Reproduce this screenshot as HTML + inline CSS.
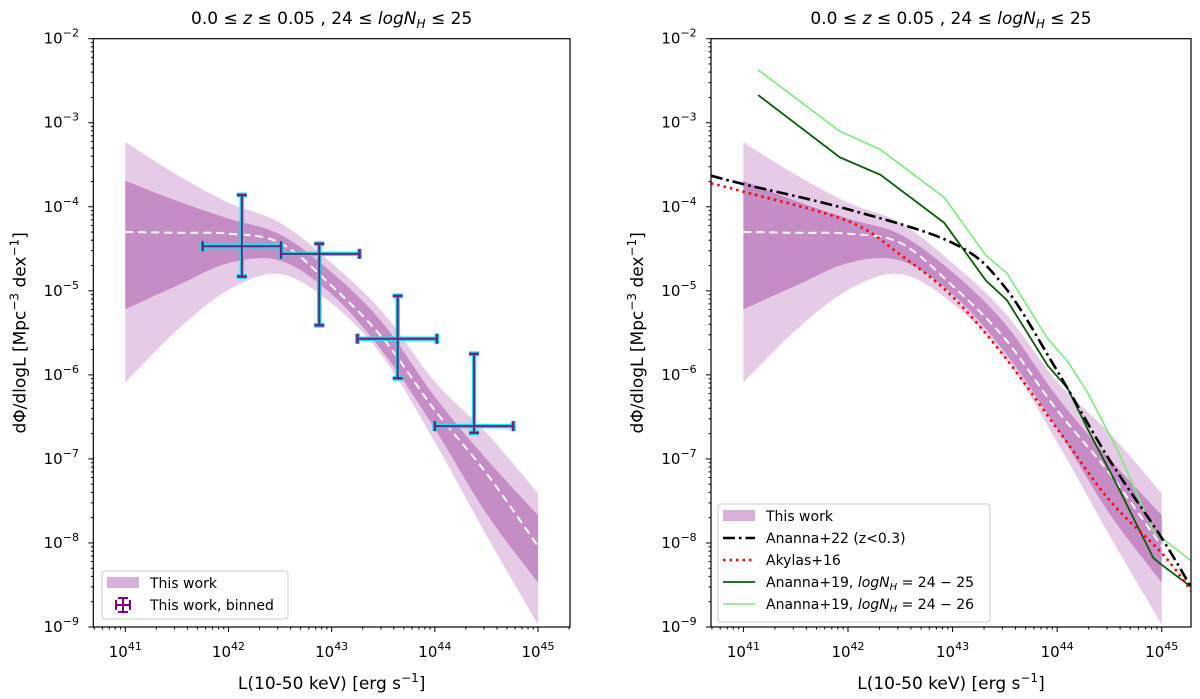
<!DOCTYPE html>
<html><head><meta charset="utf-8">
<style>
html,body{margin:0;padding:0;background:#fff;}
svg{display:block;font-family:"DejaVu Sans","Liberation Sans",sans-serif;}
</style></head>
<body>
<svg id="fig" width="1200" height="699" viewBox="0 0 1200 699" xmlns="http://www.w3.org/2000/svg"></svg>
<script>
// ---- data (log10 values) ----
const bandX = [41, 41.5, 42, 42.5, 43, 43.5, 44, 44.5, 45];
const lightUpper = [-3.23, -3.62, -3.95, -4.19, -4.67, -5.26, -6.08, -6.69, -7.41];
const darkUpper  = [-3.69, -3.93, -4.14, -4.33, -4.78, -5.39, -6.26, -7.0, -7.67];
const median     = [-4.30, -4.31, -4.32, -4.43, -4.94, -5.57, -6.42, -7.17, -8.04];
const darkLower  = [-5.22, -4.94, -4.67, -4.64, -5.04, -5.73, -6.64, -7.65, -8.47];
const lightLower = [-6.09, -5.47, -4.99, -4.80, -5.15, -5.79, -6.80, -7.91, -8.97];

const binX   = [42.13, 42.88, 43.64, 44.38];
const binXlo = [41.75, 42.51, 43.25, 44.00];
const binXhi = [42.51, 43.27, 44.02, 44.76];
const binY   = [-4.47, -4.56, -5.57, -6.61];
const binYhi = [-3.86, -4.44, -5.06, -5.75];
const binYlo = [-4.83, -5.41, -6.04, -6.69];

const a22X = [40.69, 41, 42, 43, 43.49, 44, 44.5, 45, 45.3];
const a22Y = [-3.63, -3.73, -4.03, -4.43, -4.94, -5.95, -7.01, -7.94, -8.57];
const akX  = [40.69, 41, 42, 42.5, 43, 43.5, 44, 44.5, 45, 45.3];
const akY  = [-3.72, -3.82, -4.17, -4.57, -5.07, -5.79, -6.64, -7.49, -8.12, -8.60];
const a19X = [41.14, 41.92, 42.31, 42.92, 43.32, 43.52, 43.91, 44.10, 44.29, 44.58, 44.92, 45.0, 45.3];
const a19aY = [-2.67, -3.41, -3.62, -4.19, -4.88, -5.11, -5.89, -6.16, -6.64, -7.33, -8.18, -8.26, -8.54];
const a19bY = [-2.37, -3.10, -3.32, -3.89, -4.58, -4.79, -5.57, -5.84, -6.21, -6.90, -7.86, -7.94, -8.23];

const xTicks = [41, 42, 43, 44, 45];
const yTicks = [-2, -3, -4, -5, -6, -7, -8, -9];

const NS = "http://www.w3.org/2000/svg";
const fig = document.getElementById('fig');
function el(tag, attrs, parent) {
  const e = document.createElementNS(NS, tag);
  for (const k in attrs) e.setAttribute(k, attrs[k]);
  (parent || fig).appendChild(e);
  return e;
}
// Catmull-Rom smooth path through points (no initial M)
function smooth(pts, start) {
  let d = (start ? 'M' : 'L') + pts[0][0].toFixed(1) + ',' + pts[0][1].toFixed(1);
  for (let i = 0; i < pts.length - 1; i++) {
    const p0 = pts[i - 1] || pts[i], p1 = pts[i], p2 = pts[i + 1], p3 = pts[i + 2] || pts[i + 1];
    const c1 = [p1[0] + (p2[0] - p0[0]) / 6, p1[1] + (p2[1] - p0[1]) / 6];
    const c2 = [p2[0] - (p3[0] - p1[0]) / 6, p2[1] - (p3[1] - p1[1]) / 6];
    d += 'C' + c1[0].toFixed(1) + ',' + c1[1].toFixed(1) + ' ' + c2[0].toFixed(1) + ',' + c2[1].toFixed(1) + ' ' + p2[0].toFixed(1) + ',' + p2[1].toFixed(1);
  }
  return d;
}

function panel(px0, px1, lx0, lx1, right) {
  const py0 = 38.7, py1 = 627, ly0 = -2, ly1 = -9;
  const X = v => px0 + (v - lx0) / (lx1 - lx0) * (px1 - px0);
  const Y = v => py0 + (v - ly0) / (ly1 - ly0) * (py1 - py0);
  const g = el('g', {});
  
  
  const clipId = right ? 'clipR' : 'clipL';
  const cp = el('clipPath', {id: clipId}, g);
  el('rect', {x: px0, y: py0, width: px1 - px0, height: py1 - py0}, cp);
  const pg = el('g', {'clip-path': 'url(#' + clipId + ')'}, g);

  function band(up, lo, fill, name) {
    const top = bandX.map((x, i) => [X(x), Y(up[i])]);
    const bot = bandX.map((x, i) => [X(x), Y(lo[i])]).reverse();
    const d = smooth(top, true) + smooth(bot, false) + 'Z';
    const p = el('path', {d: d, fill: fill, stroke: 'none'}, pg);
    
    
  }
  band(lightUpper, lightLower, '#e6cbe6', 'band-light');
  band(darkUpper, darkLower, '#c68cc6', 'band-dark');

  function line(xs, ys, attrs, name, sm) {
    const pts = xs.map((x, i) => [X(x), Y(ys[i])]);
    const d = sm ? smooth(pts, true) : 'M' + pts.map(p => p[0].toFixed(1) + ',' + p[1].toFixed(1)).join('L');
    const p = el('path', Object.assign({d: d, fill: 'none'}, attrs), pg);
    
    
  }
  line(bandX, median, {stroke: '#fff', 'stroke-width': 2, 'stroke-dasharray': '8,5'}, 'median-line', true);

  if (!right) {
    binX.forEach((bx, i) => {
      const eg = el('g', {}, pg);
      
      
      const cx = X(bx), cy = Y(binY[i]);
      const x0 = X(binXlo[i]), x1 = X(binXhi[i]), y0 = Y(binYhi[i]), y1 = Y(binYlo[i]);
      for (const [c, w, cw] of [['#00eeee', 4.5, 5], ['#7a1a7a', 2, 2.4]]) {
        el('line', {x1: x0, y1: cy, x2: x1, y2: cy, stroke: c, 'stroke-width': w}, eg);
        el('line', {x1: cx, y1: y0, x2: cx, y2: y1, stroke: c, 'stroke-width': w}, eg);
        el('line', {x1: x0, y1: cy - 5, x2: x0, y2: cy + 5, stroke: c, 'stroke-width': cw}, eg);
        el('line', {x1: x1, y1: cy - 5, x2: x1, y2: cy + 5, stroke: c, 'stroke-width': cw}, eg);
        el('line', {x1: cx - 5, y1: y0, x2: cx + 5, y2: y0, stroke: c, 'stroke-width': cw}, eg);
        el('line', {x1: cx - 5, y1: y1, x2: cx + 5, y2: y1, stroke: c, 'stroke-width': cw}, eg);
      }
    });
  } else {
    line(a19X, a19bY, {stroke: '#7ee87e', 'stroke-width': 1.6}, 'ananna19-24-26-line', false);
    line(a19X, a19aY, {stroke: '#0a5a0a', 'stroke-width': 1.8}, 'ananna19-24-25-line', false);
    line(akX, akY, {stroke: '#ff0000', 'stroke-width': 2.6, 'stroke-dasharray': '2.5,4'}, 'akylas16-line', true);
    line(a22X, a22Y, {stroke: '#000', 'stroke-width': 2.6, 'stroke-dasharray': '12,4,2.5,4'}, 'ananna22-line', true);
  }

  el('rect', {x: px0, y: py0, width: px1 - px0, height: py1 - py0, fill: 'none', stroke: '#000', 'stroke-width': 1.2}, g);
  for (let d = 40; d <= 45; d++) for (let m = 1; m < 10; m++) {
    const v = d + Math.log10(m);
    if (v < lx0 || v > lx1) continue;
    el('line', {x1: X(v), y1: py1, x2: X(v), y2: py1 + (m === 1 ? 5 : 2.5), stroke: '#000', 'stroke-width': 1}, g);
  }
  xTicks.forEach(t => {
    const tx = el('text', {x: X(t), y: 657, 'font-size': 15, 'text-anchor': 'middle'}, g);
    
    
    tx.textContent = '10';
    const s = el('tspan', {'font-size': 11, dy: -7}, tx); s.textContent = String(t);
  });
  for (let d = -9; d <= -2; d++) for (let m = 1; m < 10; m++) {
    const v = d + Math.log10(m);
    if (v < ly1 || v > ly0) continue;
    el('line', {x1: px0, y1: Y(v), x2: px0 - (m === 1 ? 5 : 2.5), y2: Y(v), stroke: '#000', 'stroke-width': 1}, g);
  }
  yTicks.forEach(t => {
    const tx = el('text', {x: px0 - 32, y: Y(t) + 5, 'font-size': 15, 'text-anchor': 'middle'}, g);
    
    
    tx.textContent = '10';
    const s = el('tspan', {'font-size': 11, dy: -7}, tx); s.textContent = '\u2212' + (-t);
  });
  const cx = (px0 + px1) / 2;
  const title = el('text', {x: cx, y: 24, 'font-size': 17, 'text-anchor': 'middle'}, g);
  
  
  title.innerHTML = '0.0 \u2264 <tspan font-style="italic">z</tspan> \u2264 0.05 , 24 \u2264 <tspan font-style="italic">logN</tspan><tspan font-style="italic" font-size="12" dy="4">H</tspan><tspan dy="-4"> \u2264 25</tspan>';
  const xl = el('text', {x: cx, y: 689, 'font-size': 17, 'text-anchor': 'middle'}, g);
  
  
  xl.innerHTML = 'L(10-50 keV) [erg s<tspan font-size="12" dy="-7">\u22121</tspan><tspan dy="7">]</tspan>';
  const yx = px0 - 68, yy = (py0 + py1) / 2;
  const yl = el('text', {x: yx, y: yy, 'font-size': 17, 'text-anchor': 'middle', transform: 'rotate(-90 ' + yx + ' ' + yy + ')'}, g);
  
  
  yl.innerHTML = 'd\u03A6/dlogL [Mpc<tspan font-size="12" dy="-7">\u22123</tspan><tspan dy="7"> dex</tspan><tspan font-size="12" dy="-7">\u22121</tspan><tspan dy="7">]</tspan>';
  return g;
}

panel(93.3, 570, 40.69, 45.31, false);
panel(711, 1191, 40.69, 45.28, true);

const lg = el('g', {});


el('rect', {x: 102, y: 571, width: 186, height: 48, rx: 3, fill: '#fff', 'fill-opacity': 0.8, stroke: '#ccc'}, lg);
el('rect', {x: 107, y: 577, width: 32, height: 11, fill: '#d9b0d9'}, lg);
let t = el('text', {x: 150, y: 588, 'font-size': 14}, lg); t.textContent = 'This work';
const eb = el('g', {stroke: '#800080', 'stroke-width': 2}, lg);
el('line', {x1: 116, y1: 605, x2: 130, y2: 605}, eb);
el('line', {x1: 123, y1: 598, x2: 123, y2: 612}, eb);
el('line', {x1: 116, y1: 600, x2: 116, y2: 610}, eb);
el('line', {x1: 130, y1: 600, x2: 130, y2: 610}, eb);
el('line', {x1: 118, y1: 598, x2: 128, y2: 598}, eb);
el('line', {x1: 118, y1: 612, x2: 128, y2: 612}, eb);
t = el('text', {x: 150, y: 610, 'font-size': 14}, lg); t.textContent = 'This work, binned';

const rg = el('g', {});


el('rect', {x: 718, y: 504, width: 272, height: 118, rx: 3, fill: '#fff', 'fill-opacity': 0.8, stroke: '#ccc'}, rg);
const ry = [516, 538, 560, 582, 604];
el('rect', {x: 723, y: ry[0] - 6, width: 32, height: 11, fill: '#d9b0d9'}, rg);
el('line', {x1: 723, y1: ry[1], x2: 755, y2: ry[1], stroke: '#000', 'stroke-width': 2.6, 'stroke-dasharray': '12,4,2.5,4'}, rg);
el('line', {x1: 723, y1: ry[2], x2: 755, y2: ry[2], stroke: '#f00', 'stroke-width': 2.6, 'stroke-dasharray': '2.5,4'}, rg);
el('line', {x1: 723, y1: ry[3], x2: 755, y2: ry[3], stroke: '#0a5a0a', 'stroke-width': 1.8}, rg);
el('line', {x1: 723, y1: ry[4], x2: 755, y2: ry[4], stroke: '#7ee87e', 'stroke-width': 1.6}, rg);
const labs = ['This work', 'Ananna+22 (z&lt;0.3)', 'Akylas+16',
  'Ananna+19, <tspan font-style="italic">logN</tspan><tspan font-style="italic" font-size="10" dy="3">H</tspan><tspan dy="-3"> = 24 \u2212 25</tspan>',
  'Ananna+19, <tspan font-style="italic">logN</tspan><tspan font-style="italic" font-size="10" dy="3">H</tspan><tspan dy="-3"> = 24 \u2212 26</tspan>'];
labs.forEach((s, i) => {
  const tx = el('text', {x: 766, y: ry[i] + 5, 'font-size': 14}, rg);
  
  
  tx.innerHTML = s;
});
</script>
</body></html>
